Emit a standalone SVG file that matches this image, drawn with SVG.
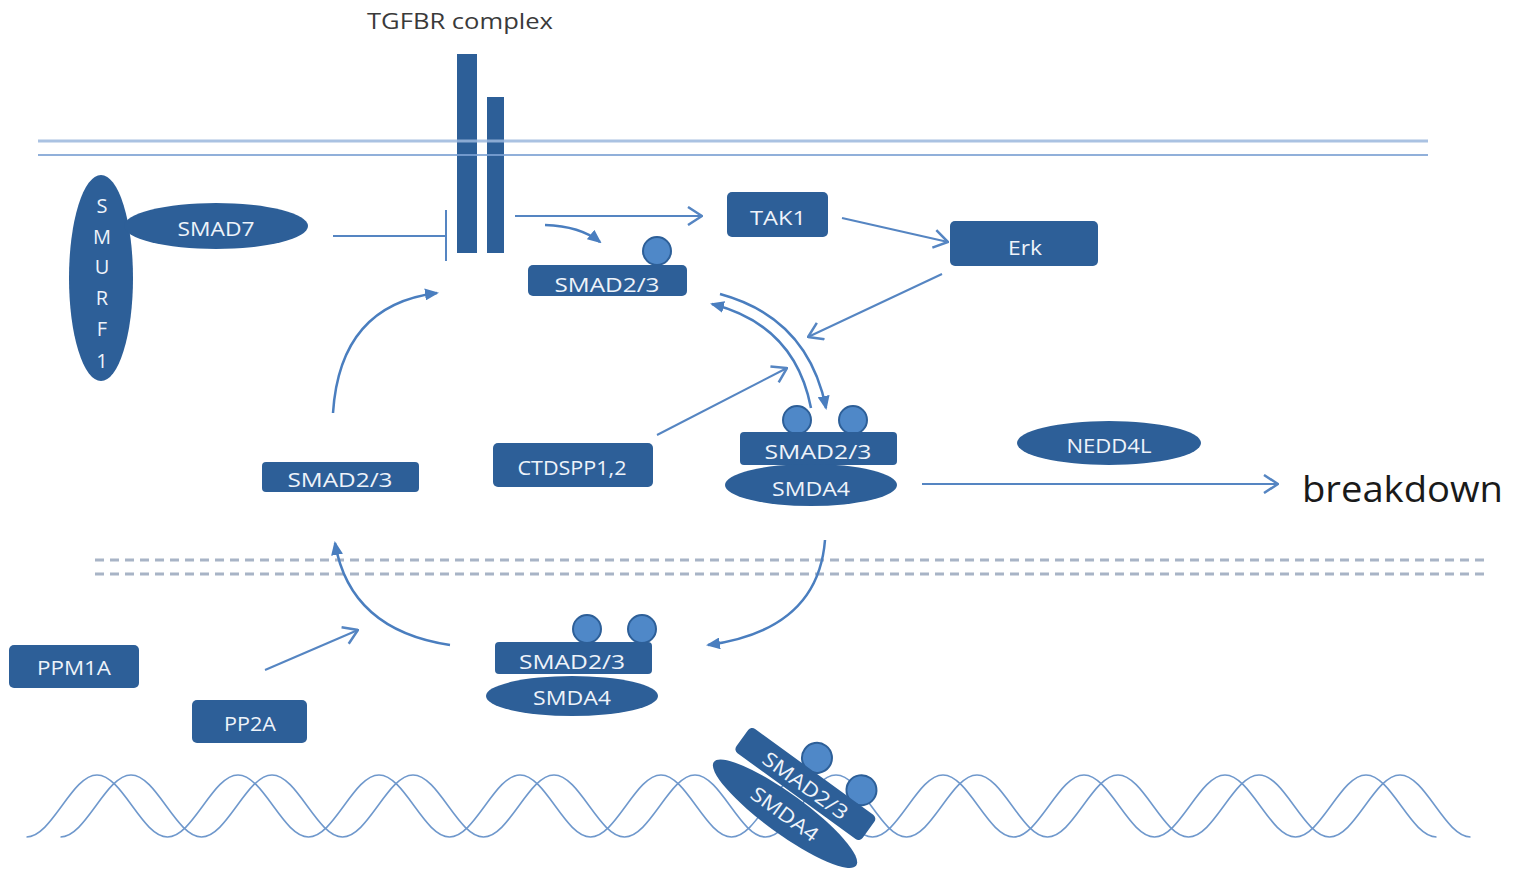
<svg xmlns="http://www.w3.org/2000/svg" width="1529" height="875" viewBox="0 0 1529 875">
<defs>
<style>
.node{fill:#2d5f98;}
.phos{fill:#4f88c8;stroke:#2d5f98;stroke-width:2;}
.lbl{font-family:"Open Sans","Liberation Sans",sans-serif;font-size:20px;fill:#eef3fa;text-anchor:middle;dominant-baseline:central;}
.conn{fill:none;stroke:#5585c2;stroke-width:2;}
.curve{fill:none;stroke:#4a7ebf;stroke-width:2.5;}
.dna{fill:none;stroke:#6f98cc;stroke-width:1.6;}
.dash{fill:none;stroke:#a8b4c6;stroke-width:3;stroke-dasharray:9 6;}
</style>
<marker id="chev" viewBox="0 0 16 20" refX="15" refY="10" markerWidth="16" markerHeight="20" markerUnits="userSpaceOnUse" orient="auto">
<path d="M1,1 L15,10 L1,19" fill="none" stroke="#5585c2" stroke-width="2.5"/>
</marker>
<marker id="tri" viewBox="0 0 14 12" refX="12" refY="6" markerWidth="14" markerHeight="12" markerUnits="userSpaceOnUse" orient="auto">
<path d="M0,0 L14,6 L0,12 z" fill="#4a7ebf"/>
</marker>
</defs>
<rect width="1529" height="875" fill="#ffffff"/>

<g id="tgfbr">
<text x="460" y="20" font-family="'Open Sans','Liberation Sans',sans-serif" font-size="22" fill="#3a3a3a" text-anchor="middle" dominant-baseline="central" textLength="186" lengthAdjust="spacingAndGlyphs">TGFBR complex</text>
<rect class="node" x="457" y="54" width="20" height="199"/>
<rect class="node" x="487" y="97" width="17" height="156"/>
</g>

<g id="membranes">
<path d="M38,141 L1428,141" stroke="#9cb8de" stroke-width="3" opacity="0.85"/>
<path d="M38,155 L1428,155" stroke="#7ea3d4" stroke-width="2" opacity="0.85"/>
<path class="dash" d="M95,560 L1485,560"/>
<path class="dash" d="M95,574 L1485,574"/>
</g>

<g id="dna">
<path class="dna" d="M26.5,837 c25.4,0 45.1,-62 70.5,-62 s45.1,62 70.5,62 s45.1,-62 70.5,-62 s45.1,62 70.5,62 s45.1,-62 70.5,-62 s45.1,62 70.5,62 s45.1,-62 70.5,-62 s45.1,62 70.5,62 s45.1,-62 70.5,-62 s45.1,62 70.5,62 s45.1,-62 70.5,-62 s45.1,62 70.5,62 s45.1,-62 70.5,-62 s45.1,62 70.5,62 s45.1,-62 70.5,-62 s45.1,62 70.5,62 s45.1,-62 70.5,-62 s45.1,62 70.5,62 s45.1,-62 70.5,-62 s45.1,62 70.5,62"/>
<path class="dna" d="M60.5,837 c25.4,0 45.1,-62 70.5,-62 s45.1,62 70.5,62 s45.1,-62 70.5,-62 s45.1,62 70.5,62 s45.1,-62 70.5,-62 s45.1,62 70.5,62 s45.1,-62 70.5,-62 s45.1,62 70.5,62 s45.1,-62 70.5,-62 s45.1,62 70.5,62 s45.1,-62 70.5,-62 s45.1,62 70.5,62 s45.1,-62 70.5,-62 s45.1,62 70.5,62 s45.1,-62 70.5,-62 s45.1,62 70.5,62 s45.1,-62 70.5,-62 s45.1,62 70.5,62 s45.1,-62 70.5,-62 s45.1,62 70.5,62"/>
</g>

<g id="connectors">
<path class="conn" d="M333,236 L446,236"/>
<path d="M446,210 L446,261" stroke="#5585c2" stroke-width="2"/>
<path class="conn" d="M515,216 L702,216" marker-end="url(#chev)"/>
<path class="conn" d="M842,218 L948,242" marker-end="url(#chev)"/>
<path class="conn" d="M942,274 L808,337" marker-end="url(#chev)"/>
<path class="conn" d="M657,435 L787,368" marker-end="url(#chev)"/>
<path class="conn" d="M265,670 L358,630" marker-end="url(#chev)"/>
<path class="conn" d="M922,484 L1278,484" marker-end="url(#chev)"/>
<path class="curve" d="M545,225 Q580,226 600,242" marker-end="url(#tri)"/>
<path class="curve" d="M333,413 Q340,305 437,293" marker-end="url(#tri)"/>
<path class="curve" d="M720,294 Q808,318 826,408" marker-end="url(#tri)"/>
<path class="curve" d="M811,408 Q795,325 712,304" marker-end="url(#tri)"/>
<path class="curve" d="M825,540 Q818,630 708,645" marker-end="url(#tri)"/>
<path class="curve" d="M450,645 Q350,630 335,543" marker-end="url(#tri)"/>
</g>

<g id="smurf1">
<ellipse class="node" cx="101" cy="278" rx="32" ry="103"/>
<text class="lbl" x="102" y="205">S</text>
<text class="lbl" x="102" y="236">M</text>
<text class="lbl" x="102" y="266">U</text>
<text class="lbl" x="102" y="297">R</text>
<text class="lbl" x="102" y="328">F</text>
<text class="lbl" x="102" y="360">1</text>
</g>

<g id="smad7">
<ellipse class="node" cx="216" cy="226" rx="92" ry="23"/>
<text class="lbl" x="216" y="228" textLength="77" lengthAdjust="spacingAndGlyphs">SMAD7</text>
</g>

<g id="smad23-top">
<circle class="phos" cx="657" cy="251" r="14"/>
<rect class="node" x="528" y="265" width="159" height="31" rx="5"/>
<text class="lbl" x="607" y="284" textLength="105" lengthAdjust="spacingAndGlyphs">SMAD2/3</text>
</g>

<g id="tak1">
<rect class="node" x="727" y="192" width="101" height="45" rx="5"/>
<text class="lbl" x="778" y="217" textLength="56" lengthAdjust="spacingAndGlyphs">TAK1</text>
</g>

<g id="erk">
<rect class="node" x="950" y="221" width="148" height="45" rx="5"/>
<text class="lbl" x="1025" y="247" textLength="34" lengthAdjust="spacingAndGlyphs">Erk</text>
</g>

<g id="smad23-left">
<rect class="node" x="262" y="462" width="157" height="30" rx="4"/>
<text class="lbl" x="340" y="479" textLength="105" lengthAdjust="spacingAndGlyphs">SMAD2/3</text>
</g>

<g id="ctdspp">
<rect class="node" x="493" y="443" width="160" height="44" rx="5"/>
<text class="lbl" x="572" y="467" textLength="109" lengthAdjust="spacingAndGlyphs">CTDSPP1,2</text>
</g>

<g id="complex-mid">
<circle class="phos" cx="797" cy="420" r="14"/>
<circle class="phos" cx="853" cy="420" r="14"/>
<rect class="node" x="740" y="432" width="157" height="33" rx="4"/>
<ellipse class="node" cx="811" cy="485" rx="86" ry="21"/>
<text class="lbl" x="818" y="451" textLength="107" lengthAdjust="spacingAndGlyphs">SMAD2/3</text>
<text class="lbl" x="811" y="488" textLength="78" lengthAdjust="spacingAndGlyphs">SMDA4</text>
</g>

<g id="nedd4l">
<ellipse class="node" cx="1109" cy="443" rx="92" ry="22"/>
<text class="lbl" x="1109" y="445" textLength="85" lengthAdjust="spacingAndGlyphs">NEDD4L</text>
</g>

<g id="breakdown">
<text x="1302" y="487" font-family="'Open Sans','Liberation Sans',sans-serif" font-size="37" fill="#1a1a1a" dominant-baseline="central" textLength="201" lengthAdjust="spacingAndGlyphs">breakdown</text>
</g>

<g id="ppm1a">
<rect class="node" x="9" y="645" width="130" height="43" rx="5"/>
<text class="lbl" x="74" y="667" textLength="74" lengthAdjust="spacingAndGlyphs">PPM1A</text>
</g>

<g id="pp2a">
<rect class="node" x="192" y="700" width="115" height="43" rx="5"/>
<text class="lbl" x="250" y="723" textLength="52" lengthAdjust="spacingAndGlyphs">PP2A</text>
</g>

<g id="complex-bottom">
<circle class="phos" cx="587" cy="629" r="14"/>
<circle class="phos" cx="642" cy="629" r="14"/>
<rect class="node" x="495" y="642" width="157" height="32" rx="4"/>
<ellipse class="node" cx="572" cy="696" rx="86" ry="20"/>
<text class="lbl" x="572" y="661" textLength="106" lengthAdjust="spacingAndGlyphs">SMAD2/3</text>
<text class="lbl" x="572" y="697" textLength="78" lengthAdjust="spacingAndGlyphs">SMDA4</text>
</g>

<g id="complex-dna" transform="translate(795,800) rotate(36)">
<circle class="phos" cx="-7" cy="-47" r="15"/>
<circle class="phos" cx="48" cy="-47" r="15"/>
<rect class="node" x="-79" y="-34" width="156" height="30" rx="5"/>
<ellipse class="node" cx="0" cy="17" rx="88" ry="20"/>
<text class="lbl" x="0" y="-18" textLength="100" lengthAdjust="spacingAndGlyphs">SMAD2/3</text>
<text class="lbl" x="0" y="17" textLength="78" lengthAdjust="spacingAndGlyphs">SMDA4</text>
</g>
</svg>
